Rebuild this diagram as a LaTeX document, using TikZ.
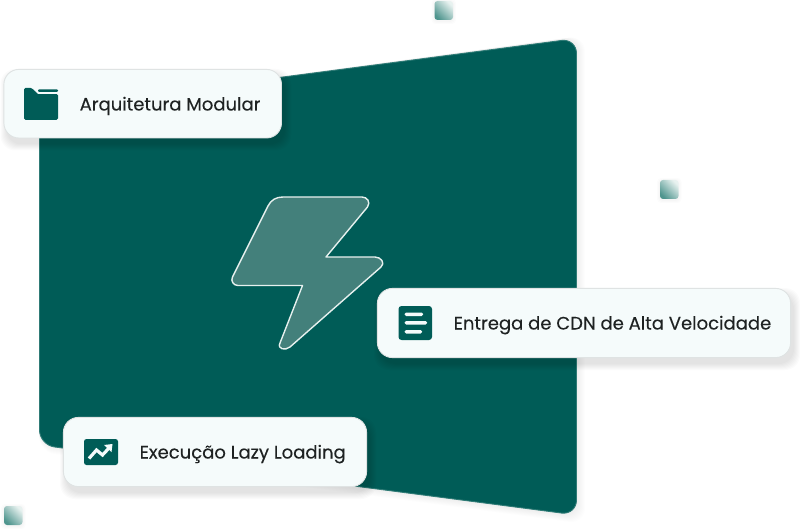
\documentclass[tikz,border=0pt]{standalone}
\usepackage{fontspec}
\setmainfont{Poppins}[FakeBold=0.12]
\usetikzlibrary{calc}
\definecolor{teal}{HTML}{005C57}
\definecolor{tealedge}{HTML}{2F7B76}
\definecolor{cardbg}{HTML}{F5FBFB}
\definecolor{cardedge}{HTML}{DFE3E3}
\definecolor{ink}{HTML}{1E2222}
\definecolor{boltfill}{HTML}{43807B}
\definecolor{boltedge}{HTML}{E6F0EE}
\definecolor{sqlight}{HTML}{E8F2F0}
\definecolor{sqdark}{HTML}{4F958E}
\tikzset{
  x=1pt,y=-1pt,
  cardbox/.style={draw=cardedge,line width=0.9pt,fill=cardbg,rounded corners=15pt},
  cardtext/.style={text=ink,font=\fontsize{18.03}{22}\selectfont,anchor=base west,inner sep=0pt},
  iconfill/.style={fill=teal,draw=none},
  speck/.style={rounded corners=3pt,draw=none,shading=axis,left color=sqlight,right color=sqdark,shading angle=-45},
  shadowlayer/.style={fill=black,draw=none,fill opacity=0.014},
}
% #1 left, #2 top, #3 right, #4 bottom
\newcommand{\softbox}[4]{%
  \foreach \g in {6,5,...,0}{%
    \path[shadowlayer,rounded corners=15pt]
      ({#1+3-\g},{#2+6-\g}) rectangle ({#3+3+\g},{#4+6+\g});
  }%
}
\newcommand{\speckglow}[4]{%
  \foreach \g in {3,2,1}{%
    \path[fill=black,fill opacity=0.01,rounded corners=4pt]
      ({#1-\g},{#2+1-\g}) rectangle ({#3+\g},{#4+1+\g});
  }%
}
\begin{document}
\begin{tikzpicture}
\useasboundingbox (0,0) rectangle (800,529);
\fill[white] (0,0) rectangle (800,529);

% panel shadow
\foreach \g in {8,7,...,1}{
  \path[fill=black,fill opacity=0.008,rounded corners=16pt]
    (39,{109}) -- ({577+\g},{37-\g*0.2}) -- ({577+\g},{516+\g}) -- (39,{444+\g}) -- cycle;
}
% panel
\draw[fill=teal,draw=tealedge,line width=0.9pt,rounded corners=15pt]
  (39.5,109) -- (576.5,38.5) -- (576.5,515) -- (39.5,445) -- cycle;

% bolt
\draw[fill=boltfill,draw=boltedge,line width=1.4pt,line join=round]
  (238,285.5)
  .. controls (233.5,285.5) and (230.5,281) .. (232.5,277)
  -- (268,206)
  .. controls (271,200) and (276,197) .. (283,197)
  -- (362,197)
  .. controls (367,197) and (371,202) .. (367.5,207)
  -- (326,257)
  -- (375,257)
  .. controls (381,257) and (385.5,263) .. (381,267)
  -- (290,347)
  .. controls (285,351) and (277,349) .. (280,343)
  -- (302.5,285.5)
  -- cycle;

% speckles
\speckglow{434.5}{1}{453}{20}
\shade[speck] (434.5,1) rectangle (453,20);
\speckglow{660}{180}{678.5}{199}
\shade[speck] (660,180) rectangle (678.5,199);
\speckglow{4}{506}{22.5}{525}
\shade[speck] (4,506) rectangle (22.5,525);

% card 1
\softbox{3.5}{69}{282}{138.5}
\node[cardbox,minimum width=277.6pt,minimum height=68.6pt,inner sep=0pt,outer sep=0pt,anchor=north west] (cardA) at (3.9,69.4) {};
\node[cardtext] (textA) at (79.5,110.5) {Arquitetura Modular};
\fill[iconfill,rounded corners=1.5pt]
  (24,88) -- (32,88) -- (38.5,94) -- (58,94) -- (58,120) -- (24,120) -- cycle;
\fill[cardbg] (32.5,88) -- (39,92.6) -- (58,92.6) -- (58,94) -- (38,94) -- (32,88) -- cycle;
\fill[iconfill,rounded corners=0.8pt] (38,89.5) rectangle (58,91.8);

% card 2
\softbox{377}{288}{791}{358}
\node[cardbox,minimum width=413.2pt,minimum height=69.2pt,inner sep=0pt,outer sep=0pt,anchor=north west] (cardB) at (377.4,288.4) {};
\node[cardtext] (textB) at (453.5,329.5) {Entrega de CDN de Alta Velocidade};
\fill[iconfill,rounded corners=3pt] (398.5,306) rectangle (432,340);
\fill[cardbg,rounded corners=1.5pt] (404.5,312.5) rectangle (423,316);
\fill[cardbg,rounded corners=1.5pt] (404.5,321) rectangle (427,324.5);
\fill[cardbg,rounded corners=1.5pt] (404.5,330) rectangle (422,333.5);

% card 3
\softbox{63}{417}{367}{487}
\node[cardbox,minimum width=303.2pt,minimum height=69.2pt,inner sep=0pt,outer sep=0pt,anchor=north west] (cardC) at (63.4,417.4) {};
\node[cardtext] (textC) at (139.5,458.5) {Execução Lazy Loading};
\fill[iconfill,rounded corners=2.5pt] (84,439) rectangle (118,465);
\draw[cardbg,line width=3.2pt,line join=miter] (89,458.5) -- (96.5,450) -- (102.5,455) -- (110,447);
\fill[cardbg] (104,445) -- (112.5,444) -- (111.5,452) -- cycle;
\end{tikzpicture}
\end{document}
